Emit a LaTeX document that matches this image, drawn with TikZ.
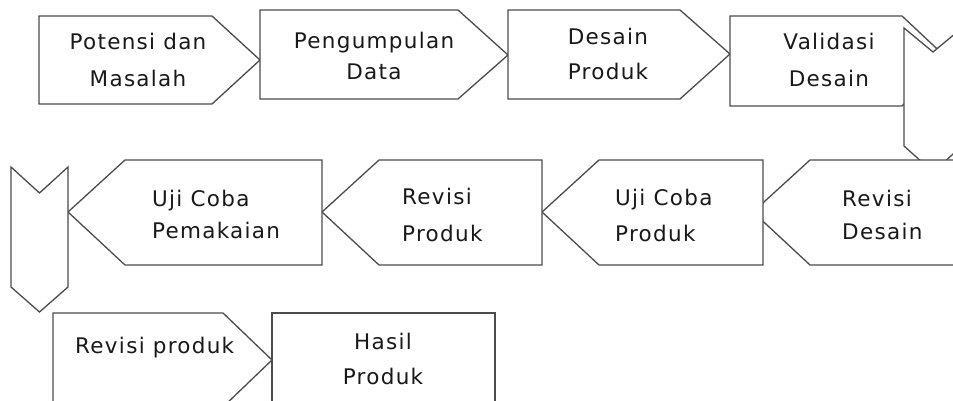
\documentclass[tikz,border=0pt]{standalone}
\usepackage{fontspec}
\setmainfont{DejaVu Sans}[LetterSpace=6]
\tikzset{
  box/.style={draw=black!70, line width=1.3pt, fill=white, line join=miter},
  lbl/.style={inner sep=0pt, text=black!90, font=\fontsize{21.5}{34}\selectfont},
}
\begin{document}
\begin{tikzpicture}[x=1pt,y=-1pt]
\useasboundingbox (0,0) rectangle (953,401);
\clip (0,0) rectangle (953,401);

% top row
    \draw[box] (39,16) -- (212,16) -- (260,60) -- (212,104) -- (39,104) -- cycle;
    \draw[box] (260,10) -- (458,10) -- (508,55) -- (458,99) -- (260,99) -- cycle;
    \draw[box] (508,10) -- (680,10) -- (730,54) -- (680,99) -- (508,99) -- cycle;
    \draw[box] (730,16) -- (902,16) -- (950,61) -- (902,106) -- (730,106) -- cycle;

	% turn down on the right
	\draw[box] (904,28) -- (933,52) -- (962,28) -- (962,146) -- (933,172) -- (904,146) -- cycle;

	% middle row, right to left
	\foreach \t/\r in {753/1000, 542/763, 322/542, 68/322}{
		\draw[box] (\t,212) -- ++(57,-52) -- (\r,160) -- (\r,265) -- (\t+57,265) -- cycle;
	}

	% turn down on the left
	\draw[box] (11,167) -- (39.5,193) -- (68,167) -- (68,287) -- (39.5,312) -- (11,287) -- cycle;

	% bottom row
	\draw[box] (53,313) -- (223,313) -- (272,360) -- (223,407) -- (53,407) -- cycle;
	\draw[box] (272,313) rectangle (495,420);

	% texts
	\node[lbl, align=center, anchor=north] (potensi) at (138,33) {Potensi dan\\[3pt]Masalah};
	\node[lbl, align=center, anchor=north] (pengumpulan) at (374,32) {Pengumpulan\\[-3pt]Data};
	\node[lbl, align=center, anchor=north] (desain) at (608,28) {Desain\\[1pt]Produk};
	\node[lbl, align=center, anchor=north] (validasi) at (829,33) {Validasi\\[3pt]Desain};
	\node[lbl, align=left, anchor=north west] (revdesain) at (842,190) {Revisi\\[-1pt]Desain};
	\node[lbl, align=left, anchor=north west] (ujiproduk) at (615,189) {Uji Coba\\[2pt]Produk};
	\node[lbl, align=left, anchor=north west] (revproduk) at (402,188) {Revisi\\[3pt]Produk};
	\node[lbl, align=left, anchor=north west] (ujipakai) at (152,190) {Uji Coba\\[-2pt]Pemakaian};
	\node[lbl, anchor=north west] (revisi) at (75,337) {Revisi produk};
	\node[lbl, align=center, anchor=north] (hasil) at (383,333) {Hasil\\[1pt]Produk};
\end{tikzpicture}
\end{document}
